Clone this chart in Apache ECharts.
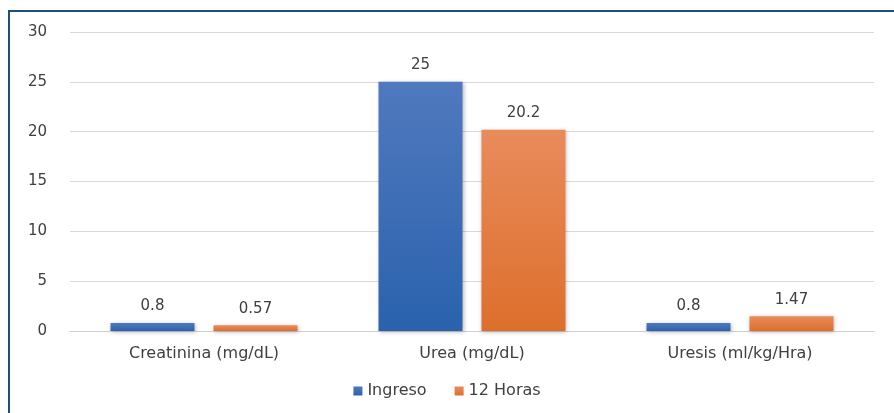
<!DOCTYPE html>
<html>
<head>
<meta charset="utf-8">
<script src="https://cdn.jsdelivr.net/npm/echarts@6/dist/echarts.min.js"></script>
<style>
  html, body { margin: 0; padding: 0; background: #ffffff; }
  #chart { width: 894px; height: 413px; }
</style>
</head>
<body>
<div id="chart"></div>
<script>
// Parámetros renales: ingreso vs. 12 horas
const categories = ['Creatinina (mg/dL)', 'Urea (mg/dL)', 'Uresis (ml/kg/Hra)'];
const ingreso = [0.8, 25, 0.8];
const doceHoras = [0.57, 20.2, 1.47];
const seriesNames = ['Ingreso', '12 Horas'];
const yTicks = { min: 0, max: 30, interval: 5 };

const FONT = '"DejaVu Sans", "Noto Sans", sans-serif';
const TEXT = '#404040';

function grad(top, bottom) {
  return new echarts.graphic.LinearGradient(0, 0, 0, 1, [
    { offset: 0, color: top },
    { offset: 1, color: bottom }
  ]);
}

const barStyle = (top, bottom) => ({
  color: grad(top, bottom),
  shadowColor: 'rgba(0,0,0,0.28)',
  shadowBlur: 4,
  shadowOffsetX: 1,
  shadowOffsetY: 1
});

const labelStyle = {
  show: true,
  position: 'top',
  distance: 9,
  color: TEXT,
  fontFamily: FONT,
  fontSize: 15
};

const chart = echarts.init(document.getElementById('chart'), null, { renderer: 'canvas' });
chart.setOption({
  animation: false,
  backgroundColor: '#ffffff',
  grid: { left: 70, right: 20, top: 32, bottom: 82 },
  legend: {
    bottom: 9,
    left: 'center',
    itemWidth: 9,
    itemHeight: 9,
    itemGap: 28,
    icon: 'rect',
    textStyle: { color: TEXT, fontFamily: FONT, fontSize: 16 },
    data: seriesNames
  },
  xAxis: {
    type: 'category',
    data: categories,
    axisTick: { show: false },
    axisLine: { lineStyle: { color: '#d0d0d0', width: 1 } },
    axisLabel: { color: TEXT, fontFamily: FONT, fontSize: 16, margin: 15 }
  },
  yAxis: {
    type: 'value',
    min: yTicks.min,
    max: yTicks.max,
    interval: yTicks.interval,
    axisLine: { show: false },
    axisTick: { show: false },
    splitLine: { lineStyle: { color: '#d9d9d9', width: 1 } },
    axisLabel: { color: TEXT, fontFamily: FONT, fontSize: 15, margin: 23 }
  },
  series: [
    {
      name: seriesNames[0],
      type: 'bar',
      data: ingreso,
      barWidth: 84,
      barGap: '22.6%',
      itemStyle: barStyle('#5079BE', '#2A62AD'),
      label: labelStyle
    },
    {
      name: seriesNames[1],
      type: 'bar',
      data: doceHoras,
      barWidth: 84,
      barGap: '22.6%',
      itemStyle: barStyle('#E98B5C', '#DD6F2C'),
      label: labelStyle
    }
  ],
  graphic: [
    {
      type: 'line',
      shape: { x1: 9, y1: 11, x2: 9, y2: 413 },
      style: { stroke: '#1F4E79', lineWidth: 2 }
    },
    {
      type: 'line',
      shape: { x1: 8, y1: 11, x2: 894, y2: 11 },
      style: { stroke: '#1F4E79', lineWidth: 2 }
    }
  ]
});
</script>
</body>
</html>
